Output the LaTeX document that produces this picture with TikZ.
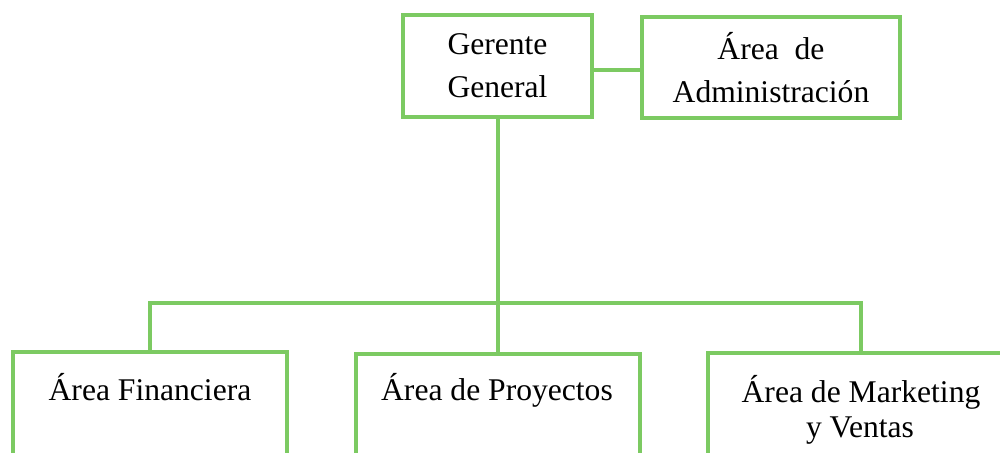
\documentclass[tikz,border=0pt]{standalone}
\usepackage{fontspec}
\setmainfont{Liberation Serif}
\definecolor{orggreen}{RGB}{124,202,98}
\begin{document}
\begin{tikzpicture}[x=0.75pt,y=-0.75pt,
  box/.style={draw=orggreen,line width=3pt,rectangle,inner sep=0pt,align=center,
    font=\fontsize{23.7}{32.25}\selectfont},
  txt/.style={inner sep=0pt,align=center,font=\fontsize{23.7}{32.25}\selectfont},
  link/.style={draw=orggreen,line width=3pt}]
\useasboundingbox (0,0) rectangle (1000,453);
\clip (0,0) rectangle (1000,453);
% top boxes
\node[box,minimum width=189*0.75pt,minimum height=102*0.75pt] (gg) at (497.5,66) {Gerente\\General};
\node[box,minimum width=258*0.75pt,minimum height=101*0.75pt] (adm) at (771,67.5) {Área~ de\\Administración};
% bottom boxes (cut by the page edge)
\node[box,minimum width=274*0.75pt,minimum height=150*0.75pt] (fin) at (150,427) {};
\node[box,minimum width=284*0.75pt,minimum height=150*0.75pt] (proy) at (498,429) {};
\node[box,minimum width=306*0.75pt,minimum height=150*0.75pt] (mkt) at (861,428) {};
\node[txt,anchor=base] (tfin) at (150,400) {Área Financiera};
\node[txt,anchor=base] (tproy) at (497,400) {Área de Proyectos};
\node[txt,anchor=base] (tmkt1) at (861,402) {Área de Marketing};
\node[txt,anchor=base] (tmkt2) at (860,437) {y Ventas};
% connectors
\coordinate (bus) at (497,303);
\draw[link] (gg.east |- 0,70) -- (adm.west |- 0,70);
\draw[link] (gg.south) -- (proy.north -| gg.south);
\draw[link] (fin.north) |- (bus) -| (mkt.north);
\end{tikzpicture}
\end{document}
